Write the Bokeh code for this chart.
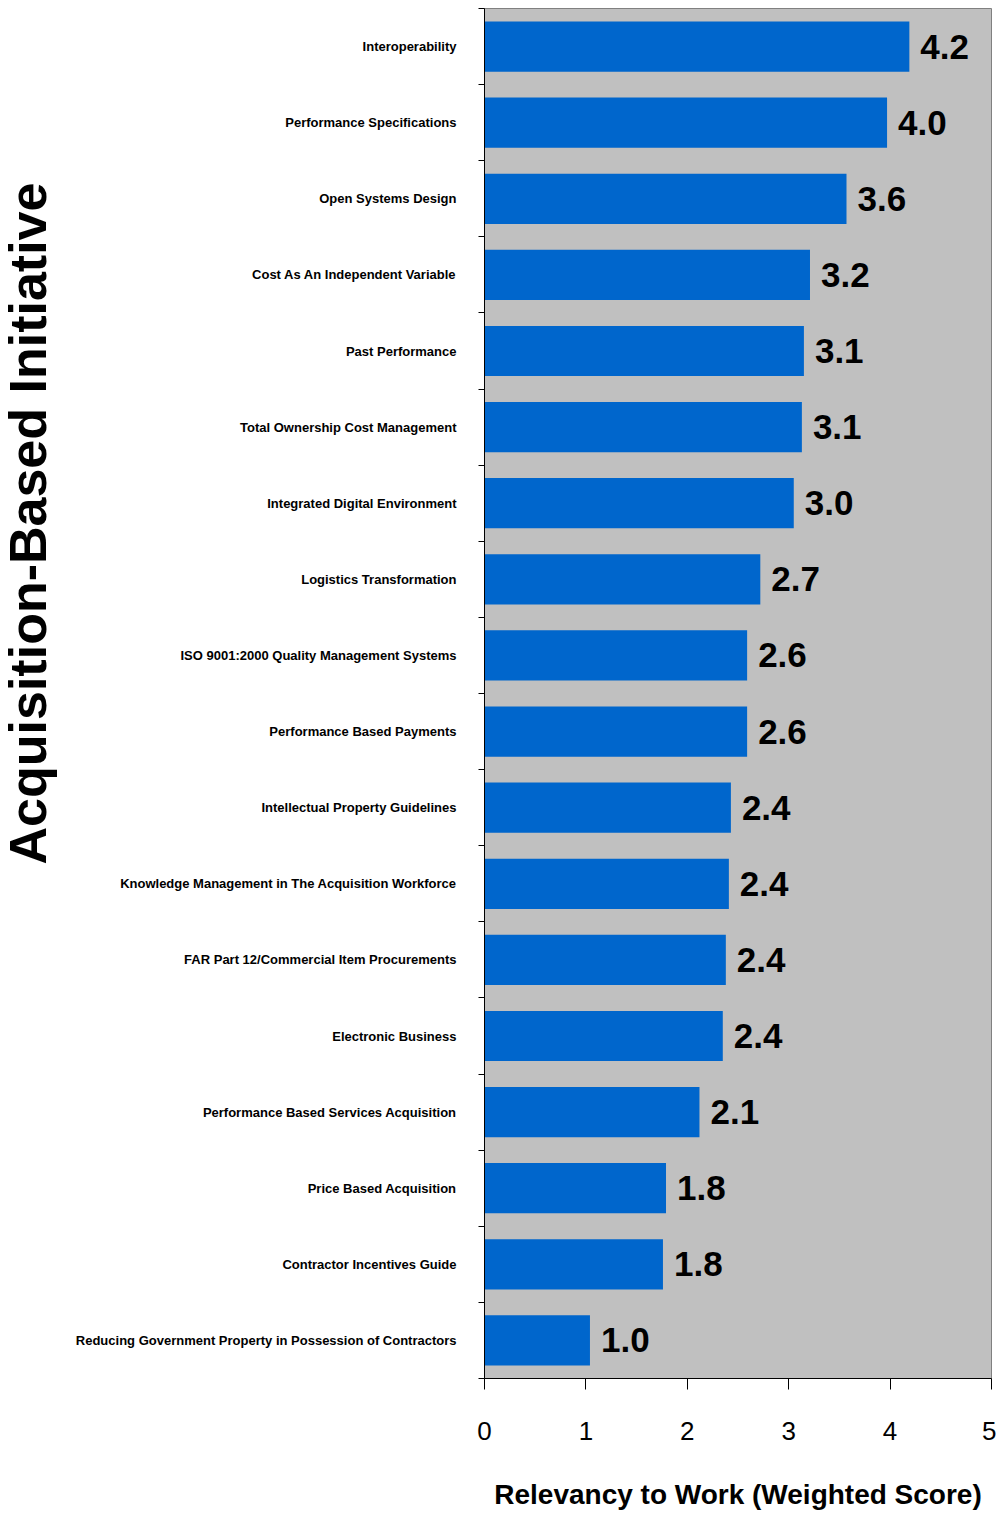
import math
from bokeh.plotting import figure
from bokeh.models import ColumnDataSource, Range1d, FixedTicker, Label
from bokeh.core.properties import value
from bokeh.embed import file_html
from bokeh.resources import INLINE

# ---- data (top bar first) ----
initiatives = [
    "Interoperability",
    "Performance Specifications",
    "Open Systems Design",
    "Cost As An Independent Variable",
    "Past Performance",
    "Total Ownership Cost Management",
    "Integrated Digital Environment",
    "Logistics Transformation",
    "ISO 9001:2000 Quality Management Systems",
    "Performance Based Payments",
    "Intellectual Property Guidelines",
    "Knowledge Management in The Acquisition Workforce",
    "FAR Part 12/Commercial Item Procurements",
    "Electronic Business",
    "Performance Based Services Acquisition",
    "Price Based Acquisition",
    "Contractor Incentives Guide",
    "Reducing Government Property in Possession of Contractors",
]
scores = [4.19, 3.97, 3.57, 3.21, 3.15, 3.13, 3.05, 2.72, 2.59, 2.59,
          2.43, 2.41, 2.38, 2.35, 2.12, 1.79, 1.76, 1.04]
score_labels = ["4.2", "4.0", "3.6", "3.2", "3.1", "3.1", "3.0", "2.7", "2.6", "2.6",
                "2.4", "2.4", "2.4", "2.4", "2.1", "1.8", "1.8", "1.0"]
x_ticks = [0, 1, 2, 3, 4, 5]

n = len(initiatives)
positions = [n - 1 - i for i in range(n)]
boundaries = [k - 0.5 for k in range(n + 1)]

src = ColumnDataSource(dict(y=positions, x=scores, lab=score_labels, name=initiatives))

W, H = 996, 1512
p = figure(width=W, height=H, output_backend="svg", toolbar_location=None,
           x_range=Range1d(0, 5), y_range=Range1d(-0.5, n - 0.5),
           min_border_left=484, min_border_right=5, min_border_top=8,
           min_border_bottom=132)
p.background_fill_color = "#C0C0C0"
p.border_fill_color = "white"
p.outline_line_color = "#808080"
p.outline_line_width = 1
p.xgrid.visible = False
p.ygrid.visible = False

p.hbar(y="y", right="x", left=0, height=0.66, source=src,
       fill_color="#0066CC", line_color=None)

p.text(x="x", y="y", text="lab", source=src, x_offset=11,
       text_baseline="middle", text_align="left",
       text_font=value("Liberation Sans"), text_font_style="bold",
       text_font_size="35px", text_color="black")

# y axis: labels at bar centers, small ticks at boundaries
yax = p.yaxis[0]
yax.ticker = FixedTicker(ticks=positions, minor_ticks=boundaries)
yax.major_label_overrides = {pos: nm for pos, nm in zip(positions, initiatives)}
yax.major_tick_out = 0
yax.major_tick_in = 0
yax.minor_tick_out = 6
yax.minor_tick_in = 0
yax.minor_tick_line_color = "black"
yax.axis_line_color = "black"
yax.major_label_standoff = 22
yax.major_label_text_font = "Liberation Sans"
yax.major_label_text_font_style = "bold"
yax.major_label_text_font_size = "13px"
yax.major_label_text_color = "black"

# x axis
xax = p.xaxis[0]
xax.ticker = FixedTicker(ticks=x_ticks)
xax.major_tick_out = 11
xax.major_tick_in = 0
xax.minor_tick_out = 0
xax.minor_tick_in = 0
xax.major_tick_line_color = "black"
xax.axis_line_color = "black"
xax.major_label_standoff = 32
xax.major_label_text_font = "Liberation Sans"
xax.major_label_text_font_size = "26px"
xax.major_label_text_color = "black"
xax.axis_label = "Relevancy to Work (Weighted Score)"
xax.axis_label_text_font = "Liberation Sans"
xax.axis_label_text_font_style = "bold"
xax.axis_label_text_font_size = "28px"
xax.axis_label_text_color = "black"
xax.axis_label_standoff = 36

# rotated y title in its own left side panel (screen units relative to that panel)
ytitle = Label(x=13, y=1380 - 525, x_units="screen", y_units="screen",
               text="Acquisition-Based Initiative", angle=math.pi / 2,
               text_align="center", text_baseline="middle",
               text_font="Liberation Sans", text_font_style="bold",
               text_font_size="52px", text_color="black")
p.add_layout(ytitle, "left")

open("out.html", "w").write(file_html(p, INLINE))
